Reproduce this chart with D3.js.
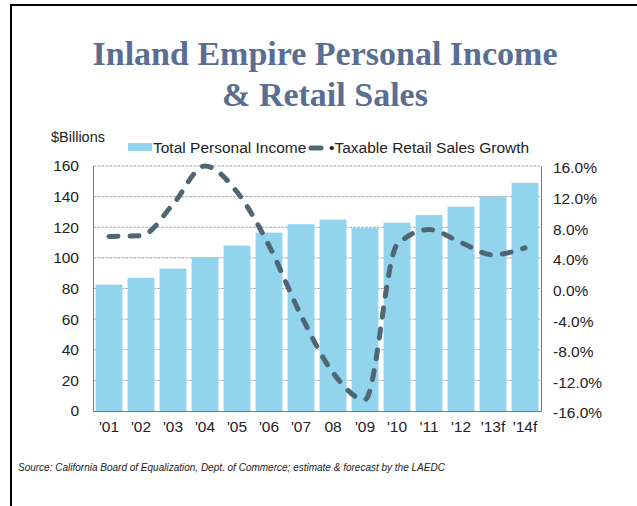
<!DOCTYPE html>
<html><head><meta charset="utf-8">
<script src="https://cdn.jsdelivr.net/npm/d3@7"></script>
<style>body{margin:0;background:#fff}svg{display:block}</style>
</head><body>
<svg id="c" width="637" height="506"></svg>
<script>
const years = ["'01","'02","'03","'04","'05","'06","'07","08","'09","'10","'11","'12","'13f","'14f"];
const income = [82.5, 87, 93, 100.5, 108, 116.5, 122, 125, 119.5, 123, 128, 133.5, 140, 149];
const retailGrowth = [6.8, 6.9, 11.0, 16.0, 12.6, 5.6, -3.5, -11.0, -14.5, 5.7, 7.7, 6.0, 4.4, 5.3];
const leftTicks = [0, 20, 40, 60, 80, 100, 120, 140, 160];
const rightTicks = [-16, -12, -8, -4, 0, 4, 8, 12, 16];

const svg = d3.select("#c");
const L = 93, R = 541, T = 166, B = 411;

// frame
svg.append("line").attr("x1",11).attr("x2",11).attr("y1",5).attr("y2",506).attr("stroke","#000").attr("stroke-width",2);
svg.append("line").attr("x1",10).attr("x2",637).attr("y1",5).attr("y2",5).attr("stroke","#000").attr("stroke-width",2);

// title
const title = svg.append("text").attr("text-anchor","middle").attr("fill","#5a6d92")
  .style("font-family","'Liberation Serif','Times New Roman',serif").style("font-weight","bold").style("font-size","34px");
title.append("tspan").attr("x",325).attr("y",65).text("Inland Empire Personal Income");
title.append("tspan").attr("x",325).attr("y",106).text("& Retail Sales");

const x = d3.scaleBand().domain(years).range([L, R]).paddingInner(0.16).paddingOuter(0.08);
const y = d3.scaleLinear().domain([0,160]).range([B, T]);
const y2 = d3.scaleLinear().domain([-16,16]).range([B, T]);

// gridlines
svg.append("g").selectAll("line").data(leftTicks.filter(d=>d>0)).join("line")
  .attr("x1",L).attr("x2",R).attr("y1",d=>y(d)).attr("y2",d=>y(d))
  .attr("stroke","#aaa").attr("stroke-width",1).attr("stroke-dasharray","3,1");

// bars
svg.append("g").selectAll("rect").data(income).join("rect")
  .attr("x",(d,i)=>x(years[i])).attr("width",x.bandwidth())
  .attr("y",d=>y(d)).attr("height",d=>B-y(d)).attr("fill","#92d4ec");

// axes
const fontAx = "'Liberation Sans',Arial,sans-serif";
const gl = svg.append("g").attr("transform",`translate(${L},0)`).call(d3.axisLeft(y).tickValues(leftTicks).tickSize(0).tickPadding(14));
const gr = svg.append("g").attr("transform",`translate(${R},0)`).call(d3.axisRight(y2).tickValues(rightTicks).tickSize(0).tickPadding(12).tickFormat(d=>d.toFixed(1)+"%"));
const gb = svg.append("g").attr("transform",`translate(0,${B})`).call(d3.axisBottom(x).tickSize(0).tickPadding(10));
[gl,gr,gb].forEach(g=>{
  g.selectAll("text").style("font-family",fontAx).style("font-size","15.5px").attr("fill","#222");
  g.select(".domain").attr("stroke","#777").attr("stroke-width",1);
});
gr.selectAll("text").attr("dy","0.45em");

// line
const line = d3.line().x((d,i)=>x(years[i])+x.bandwidth()/2).y(d=>y2(d)).curve(d3.curveMonotoneX);
svg.append("path").datum(retailGrowth).attr("d",line).attr("fill","none")
  .attr("stroke","#4f6675").attr("stroke-width",5).attr("stroke-linecap","round").attr("stroke-dasharray","9,12");

// legend & labels
svg.append("text").attr("x",51).attr("y",142).text("$Billions")
  .style("font-family",fontAx).style("font-size","14.5px").attr("fill","#222");
svg.append("rect").attr("x",128).attr("y",143).attr("width",24).attr("height",8).attr("fill","#92d4ec");
svg.append("text").attr("x",153).attr("y",153).text("Total Personal Income")
  .style("font-family",fontAx).style("font-size","15.5px").attr("fill","#222");
svg.append("line").attr("x1",311).attr("x2",321).attr("y1",148).attr("y2",148)
  .attr("stroke","#4f6675").attr("stroke-width",5).attr("stroke-linecap","round");
svg.append("text").attr("x",329).attr("y",153).text("•Taxable Retail Sales Growth")
  .style("font-family",fontAx).style("font-size","15.5px").attr("fill","#222");

svg.append("text").attr("x",18).attr("y",471).text("Source: California Board of Equalization, Dept. of Commerce; estimate & forecast by the LAEDC")
  .style("font-family",fontAx).style("font-size","10px").style("font-style","italic").attr("fill","#222");
</script>
</body></html>
